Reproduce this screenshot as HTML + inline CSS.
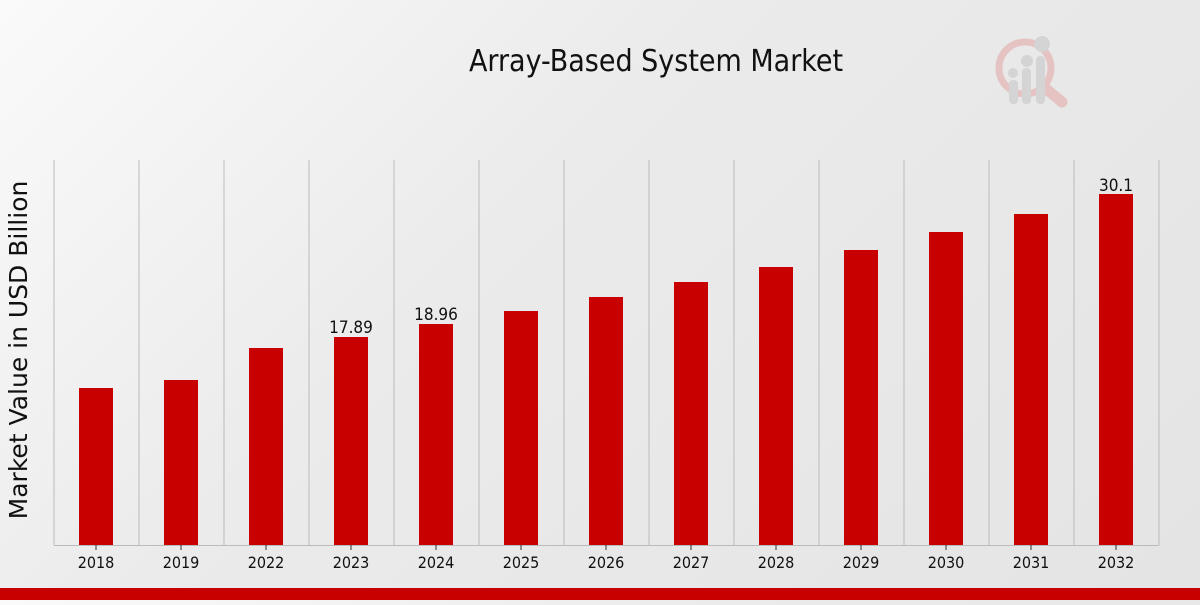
<!DOCTYPE html>
<html><head><style>
body{margin:0;width:1200px;height:600px;overflow:hidden;background:linear-gradient(135deg,#fafafa 0%,#ebebeb 40%,#e4e4e4 100%);}
svg text{font-family:"DejaVu Sans Condensed","DejaVu Sans",sans-serif;font-stretch:condensed;fill:#111;}
svg text.yl{font-family:"DejaVu Sans",sans-serif;font-stretch:normal;}
</style></head><body>
<svg width="1200" height="600" xmlns="http://www.w3.org/2000/svg">
<text x="656" y="71" font-size="30" text-anchor="middle">Array-Based System Market</text>
<g opacity="0.55">
<circle cx="1025" cy="68" r="26" fill="none" stroke="#e3a5a5" stroke-width="7"/>
<line x1="1045" y1="88" x2="1062" y2="102" stroke="#e3a5a5" stroke-width="11" stroke-linecap="round"/>
<rect x="1009" y="80" width="9" height="24" rx="4" fill="#c4c4c4"/>
<rect x="1022" y="68" width="9" height="36" rx="4" fill="#c4c4c4"/>
<rect x="1036" y="56" width="9" height="48" rx="4" fill="#c4c4c4"/>
<circle cx="1013" cy="73" r="5" fill="#c4c4c4"/><circle cx="1027" cy="61" r="6" fill="#c4c4c4"/><circle cx="1042" cy="44" r="8" fill="#c4c4c4"/>
</g>
<g stroke="#bbbbbb" stroke-width="1">
<line x1="54" y1="160" x2="54" y2="545"/><line x1="139" y1="160" x2="139" y2="545"/><line x1="224" y1="160" x2="224" y2="545"/><line x1="309" y1="160" x2="309" y2="545"/><line x1="394" y1="160" x2="394" y2="545"/><line x1="479" y1="160" x2="479" y2="545"/><line x1="564" y1="160" x2="564" y2="545"/><line x1="649" y1="160" x2="649" y2="545"/><line x1="734" y1="160" x2="734" y2="545"/><line x1="819" y1="160" x2="819" y2="545"/><line x1="904" y1="160" x2="904" y2="545"/><line x1="989" y1="160" x2="989" y2="545"/><line x1="1074" y1="160" x2="1074" y2="545"/><line x1="1159" y1="160" x2="1159" y2="545"/>
<line x1="54" y1="545.5" x2="1159" y2="545.5"/>
</g>
<g fill="#c80000">
<rect x="79" y="388" width="34" height="157"/><rect x="164" y="380" width="34" height="165"/><rect x="249" y="348" width="34" height="197"/><rect x="334" y="337" width="34" height="208"/><rect x="419" y="324" width="34" height="221"/><rect x="504" y="311" width="34" height="234"/><rect x="589" y="297" width="34" height="248"/><rect x="674" y="282" width="34" height="263"/><rect x="759" y="267" width="34" height="278"/><rect x="844" y="250" width="34" height="295"/><rect x="929" y="232" width="34" height="313"/><rect x="1014" y="214" width="34" height="331"/><rect x="1099" y="194" width="34" height="351"/>
</g>
<g stroke="#333"><line x1="96" y1="545" x2="96" y2="550"/><line x1="181" y1="545" x2="181" y2="550"/><line x1="266" y1="545" x2="266" y2="550"/><line x1="351" y1="545" x2="351" y2="550"/><line x1="436" y1="545" x2="436" y2="550"/><line x1="521" y1="545" x2="521" y2="550"/><line x1="606" y1="545" x2="606" y2="550"/><line x1="691" y1="545" x2="691" y2="550"/><line x1="776" y1="545" x2="776" y2="550"/><line x1="861" y1="545" x2="861" y2="550"/><line x1="946" y1="545" x2="946" y2="550"/><line x1="1031" y1="545" x2="1031" y2="550"/><line x1="1116" y1="545" x2="1116" y2="550"/></g>
<g font-size="16" text-anchor="middle">
<text x="96" y="568">2018</text><text x="181" y="568">2019</text><text x="266" y="568">2022</text><text x="351" y="568">2023</text><text x="436" y="568">2024</text><text x="521" y="568">2025</text><text x="606" y="568">2026</text><text x="691" y="568">2027</text><text x="776" y="568">2028</text><text x="861" y="568">2029</text><text x="946" y="568">2030</text><text x="1031" y="568">2031</text><text x="1116" y="568">2032</text>
<text x="351" y="333" font-size="17">17.89</text><text x="436" y="320" font-size="17">18.96</text><text x="1116" y="191" font-size="17">30.1</text>
</g>
<text class="yl" transform="translate(27,350) rotate(-90)" font-size="25" text-anchor="middle">Market Value in USD Billion</text>
<rect x="0" y="588" width="1200" height="12" fill="#c80000"/>
</svg>
</body></html>
